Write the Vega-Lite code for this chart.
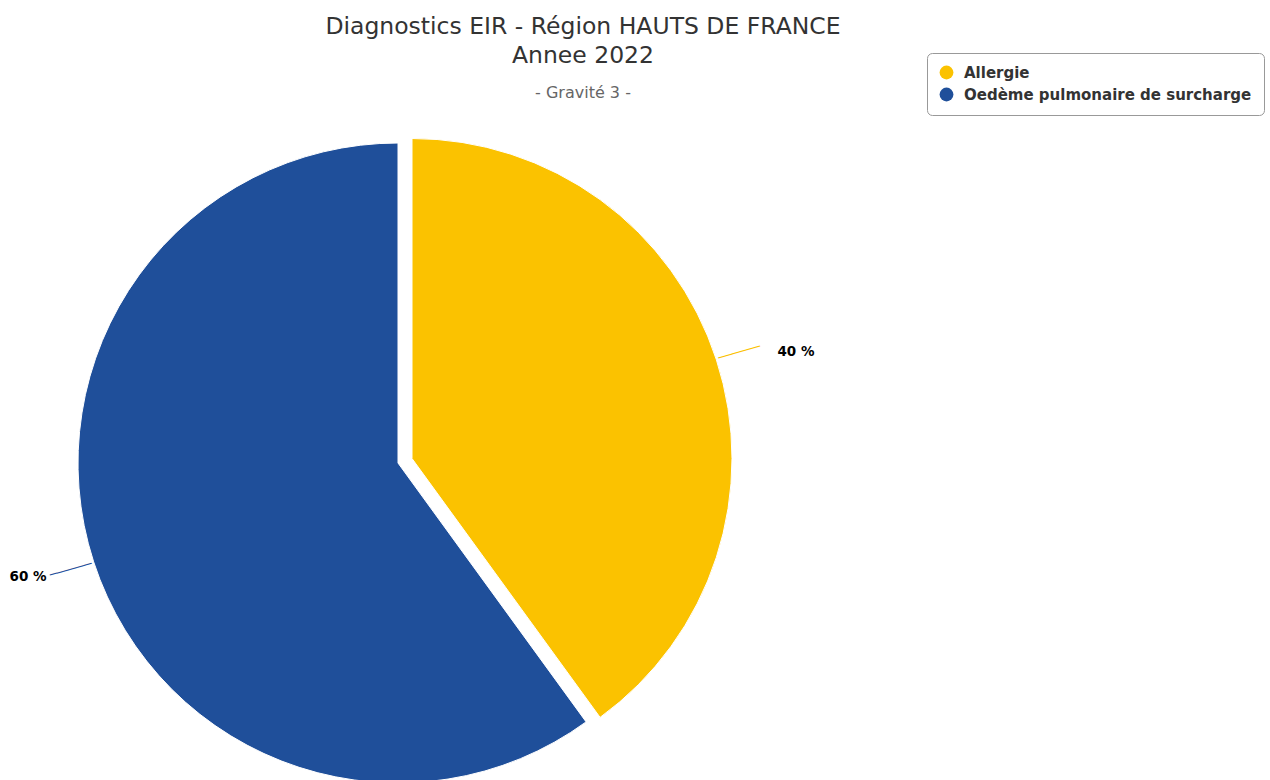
{
  "$schema": "https://vega.github.io/schema/vega-lite/v6.json",
  "width": 1166,
  "height": 780,
  "autosize": {"type": "none"},
  "padding": {"left": 0, "top": 0, "right": 104, "bottom": 0},
  "background": "white",
  "title": {
    "text": ["Diagnostics EIR - Région HAUTS DE FRANCE", "Annee 2022"],
    "subtitle": "- Gravité 3 -",
    "anchor": "middle",
    "orient": "top",
    "frame": "group",
    "offset": -101,
    "font": "DejaVu Sans",
    "fontSize": 23.5,
    "fontWeight": "normal",
    "color": "#333333",
    "lineHeight": 29,
    "subtitleFont": "DejaVu Sans",
    "subtitleFontSize": 16,
    "subtitleColor": "#666666",
    "subtitlePadding": 18
  },
  "data": {
    "values": [
      {"diagnostic": "Allergie", "pct": 40},
      {"diagnostic": "Oedème pulmonaire de surcharge", "pct": 60}
    ]
  },
  "transform": [{"calculate": "datum.pct + ' %'", "as": "label"}],
  "config": {"view": {"stroke": null}},
  "layer": [
    {
      "mark": {
        "type": "arc",
        "outerRadius": 320,
        "stroke": "white",
        "strokeWidth": 1,
        "xOffset": {"expr": "datum.diagnostic === 'Allergie' ? 14 : 0"},
        "yOffset": {"expr": "datum.diagnostic === 'Allergie' ? -4.5 : 0"}
      },
      "encoding": {
        "theta": {"field": "pct", "type": "quantitative", "stack": true},
        "color": {
          "field": "diagnostic",
          "type": "nominal",
          "scale": {
            "domain": ["Allergie", "Oedème pulmonaire de surcharge"],
            "range": ["#FBC200", "#1F4F9A"]
          },
          "legend": {
            "title": null,
            "orient": "none",
            "legendX": 927,
            "legendY": 53,
            "symbolType": "circle",
            "symbolSize": 190,
            "symbolStrokeWidth": 0,
            "labelFont": "DejaVu Sans",
            "labelFontSize": 15,
            "labelFontWeight": "bold",
            "labelColor": "#333333",
            "labelLimit": 500,
            "labelOffset": 10,
            "padding": 12,
            "rowPadding": 6,
            "strokeColor": "#999999",
            "cornerRadius": 5,
            "fillColor": "white"
          }
        },
        "x": {"value": 398},
        "y": {"value": 463}
      }
    },
    {
      "mark": {
        "type": "text",
        "radius": 344,
        "angle": -16,
        "font": "DejaVu Sans Mono",
        "fontSize": 12,
        "text": "──────",
        "baseline": "middle",
        "align": "center",
        "xOffset": {"expr": "datum.diagnostic === 'Allergie' ? 14 : 0"},
        "yOffset": {"expr": "datum.diagnostic === 'Allergie' ? -4.5 : 0"}
      },
      "encoding": {
        "theta": {"field": "pct", "type": "quantitative", "stack": true},
        "color": {"field": "diagnostic", "type": "nominal"},
        "x": {"value": 398},
        "y": {"value": 463}
      }
    },
    {
      "mark": {
        "type": "text",
        "radius": 390,
        "font": "DejaVu Sans",
        "fontSize": 13.5,
        "fontWeight": "bold",
        "color": "#000000",
        "baseline": "middle",
        "align": "center",
        "xOffset": {"expr": "datum.diagnostic === 'Allergie' ? 27 : 1"},
        "yOffset": {"expr": "datum.diagnostic === 'Allergie' ? 10 : -6.5"}
      },
      "encoding": {
        "theta": {"field": "pct", "type": "quantitative", "stack": true},
        "detail": {"field": "diagnostic"},
        "text": {"field": "label"},
        "x": {"value": 398},
        "y": {"value": 463}
      }
    }
  ]
}
